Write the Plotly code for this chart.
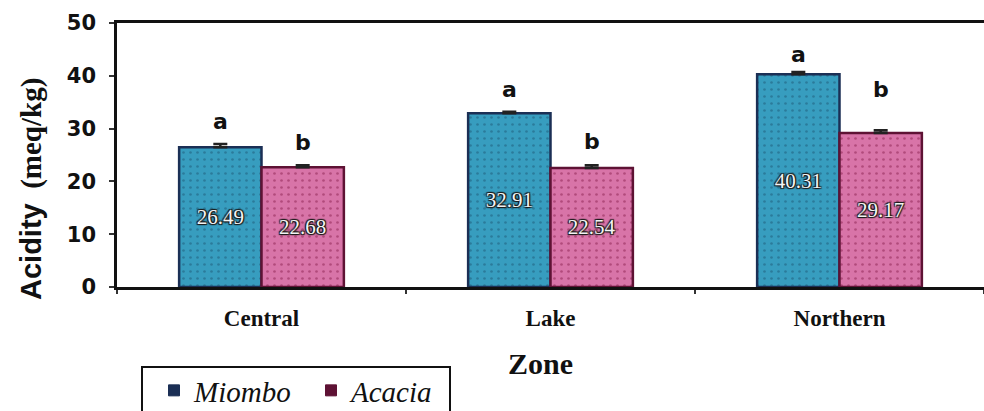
import plotly.graph_objects as go

zones = ["Central", "Lake", "Northern"]
miombo = [26.49, 32.91, 40.31]
acacia = [22.68, 22.54, 29.17]
miombo_err = [0.6, 0.3, 0.4]
acacia_err = [0.4, 0.5, 0.5]
miombo_letters = ["a", "a", "a"]
acacia_letters = ["b", "b", "b"]
y_ticks = [0, 10, 20, 30, 40, 50]

# pixel geometry of the plot area (used only for placing free text)
L, T, B, W = 117, 23, 287, 867
H = B - T


def px_x(p):
    return (p - L) / W


def px_y(p):
    return (B - p) / H


fig = go.Figure()

label_font = dict(family="Liberation Serif", size=21, color="#f4f4f4",
                  shadow="1px 1px 1px #1a1a1a, -1px -1px 1px #1a1a1a, 1px -1px 1px #1a1a1a, -1px 1px 1px #1a1a1a")

fig.add_trace(go.Bar(
    x=zones, y=miombo, name="Miombo", showlegend=False,
    text=[f"{v:.2f}" for v in miombo], textposition="inside",
    insidetextanchor="middle", textangle=0, textfont=label_font,
    marker=dict(color="#379dbf", line=dict(color="#1b2f55", width=2.5),
                pattern=dict(shape=".", fgcolor="#1e5a78", size=7, solidity=0.12)),
    error_y=dict(type="data", symmetric=False, array=miombo_err,
                 arrayminus=[0, 0, 0], color="#222", thickness=2.5, width=7),
))
fig.add_trace(go.Bar(
    x=zones, y=acacia, name="Acacia", showlegend=False,
    text=[f"{v:.2f}" for v in acacia], textposition="inside",
    insidetextanchor="middle", textangle=0, textfont=label_font,
    marker=dict(color="#d874a8", line=dict(color="#5e1234", width=2.5),
                pattern=dict(shape=".", fgcolor="#8a2050", size=7, solidity=0.12)),
    error_y=dict(type="data", symmetric=False, array=acacia_err,
                 arrayminus=[0, 0, 0], color="#222", thickness=2.5, width=7),
))

# legend entries (dark squares)
fig.add_trace(go.Scatter(x=[None], y=[None], mode="markers", name="<i>Miombo</i>",
                         marker=dict(symbol="square", size=11, color="#1b2f55",
                                     line=dict(color="#1b2f55", width=1))))
fig.add_trace(go.Scatter(x=[None], y=[None], mode="markers", name="<i>Acacia</i>",
                         marker=dict(symbol="square", size=11, color="#5e1234",
                                     line=dict(color="#5e1234", width=1))))

letter_font = dict(family="DejaVu Sans", size=22, color="#111", weight="bold")
a_shift = [26, 24, 20]
b_shift = [25, 26, 43]
for i, z in enumerate(zones):
    fig.add_annotation(x=z, y=miombo[i], text=miombo_letters[i],
                       showarrow=False, xshift=-41, yshift=a_shift[i], yanchor="middle",
                       font=letter_font)
    fig.add_annotation(x=z, y=acacia[i], text=acacia_letters[i],
                       showarrow=False, xshift=41, yshift=b_shift[i], yanchor="middle",
                       font=letter_font)

# x-axis title
fig.add_annotation(x=px_x(540), y=px_y(363), xref="paper", yref="paper", text="<b>Zone</b>",
                   showarrow=False, yanchor="middle", xanchor="center",
                   font=dict(family="Liberation Serif", size=30, color="#111"))
# y-axis title
fig.add_annotation(x=px_x(31), y=px_y(189), xref="paper", yref="paper",
                   text="<span style='font-family:Liberation Sans'>Acidity</span>  (meq/kg)",
                   textangle=-90, showarrow=False, yanchor="middle", xanchor="center",
                   font=dict(family="Liberation Serif", size=29, color="#111", weight="bold"))

# legend frame
fig.add_shape(type="rect", xref="paper", yref="paper",
              x0=px_x(142), x1=px_x(450), y0=px_y(367), y1=px_y(430),
              line=dict(color="#111", width=2), fillcolor="white", layer="below")

fig.update_layout(
    width=984, height=411,
    margin=dict(l=L, r=984 - L - W, t=T, b=411 - B, autoexpand=False),
    plot_bgcolor="white", paper_bgcolor="white",
    barmode="group", bargap=0.43, bargroupgap=0,
    showlegend=True,
    legend=dict(orientation="h", x=px_x(154), y=px_y(365), xanchor="left", yanchor="top",
                borderwidth=0, bgcolor="rgba(0,0,0,0)",
                font=dict(family="Liberation Serif", size=29, color="#111"),
                itemwidth=30, tracegroupgap=0, entrywidthmode="pixels", entrywidth=112),
    xaxis=dict(
        range=[-0.5, 2.5], showline=True, linecolor="#111", linewidth=2.5,
        mirror=True, ticks="outside", tickson="boundaries", ticklen=4,
        tickcolor="#333", tickwidth=2,
        tickfont=dict(family="Liberation Serif", size=23, color="#111", weight="bold"),
        ticklabelstandoff=9,
        showgrid=False,
    ),
    yaxis=dict(
        range=[0, 50], tickvals=y_ticks, showline=True, linecolor="#111", linewidth=2.5,
        ticks="outside", ticklen=5, tickcolor="#333", tickwidth=2,
        tickfont=dict(family="DejaVu Sans", size=21, color="#111", weight="bold"),
        ticklabelstandoff=9,
        showgrid=False, zeroline=False,
    ),
)

fig.write_html("out.html", config={"displayModeBar": False},
               post_script="document.body.style.margin='0';document.body.style.overflow='hidden';")
